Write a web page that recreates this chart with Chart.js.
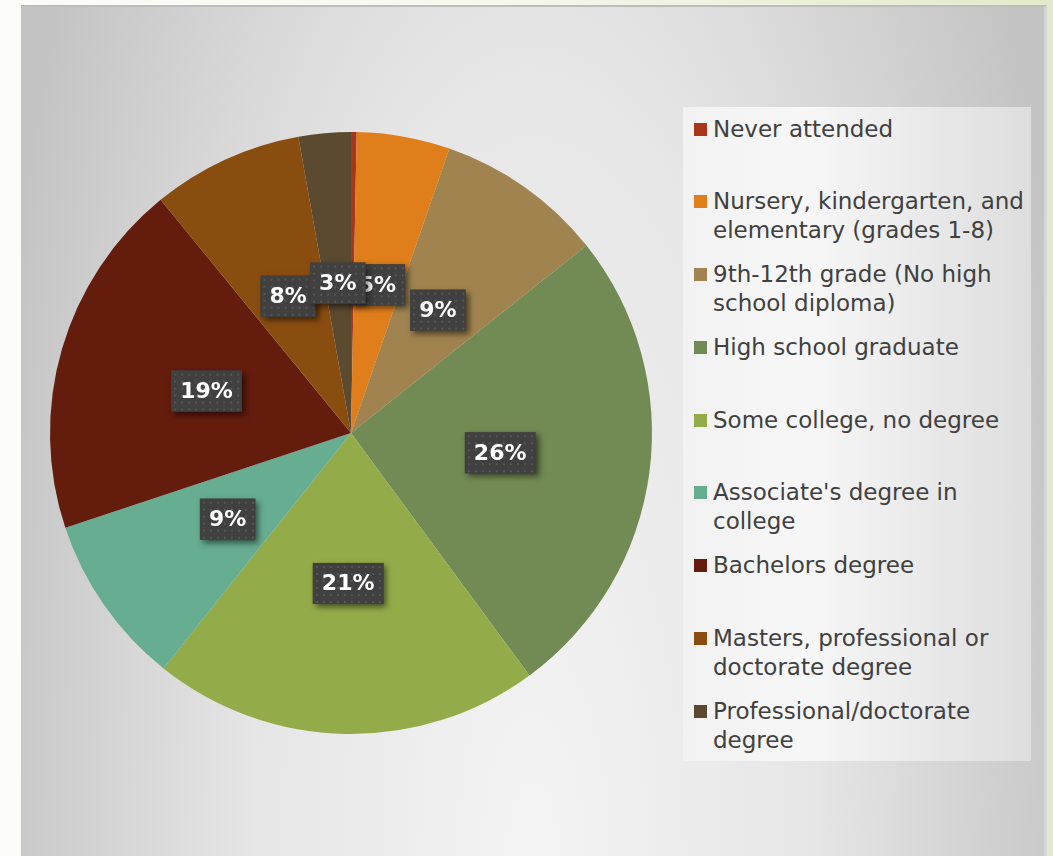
<!DOCTYPE html>
<html>
<head>
<meta charset="utf-8">
<script src="https://cdn.jsdelivr.net/npm/chart.js@4.4.0/dist/chart.umd.min.js"></script>
<style>
html,body{margin:0;padding:0;}
body{width:1053px;height:856px;overflow:hidden;position:relative;
  background:linear-gradient(to right,#fcfcf9 0%,#f6f8ee 45%,#e3eacb 100%);
  font-family:"DejaVu Sans",sans-serif;}
#panel{position:absolute;left:21px;top:5px;width:1026px;height:851px;box-sizing:border-box;
  border-top:2px solid #bdbdbd;border-left:1px solid #c2c2c2;border-right:3px solid #d6d6d6;
  background:radial-gradient(ellipse 560px 1600px at 50% 100%,#f4f4f4 0%,#e6e6e6 50%,#c4c4c4 100%);}
#legend{position:absolute;left:683px;top:107px;width:348px;height:654px;
  background:linear-gradient(to right,#f2f2f2 0%,#f7f7f7 35%,#dedede 100%);}
.item{position:absolute;left:30px;font-size:23px;line-height:29px;color:#404040;white-space:nowrap;}
.mark{position:absolute;left:11px;width:13px;height:13px;}
canvas{position:absolute;left:0;top:0;}
</style>
</head>
<body>
<div id="panel"></div>
<div id="legend"></div>
<canvas id="c" width="1053" height="856"></canvas>
<script>
const categories = [
  "Never attended",
  "Nursery, kindergarten, and elementary (grades 1-8)",
  "9th-12th grade (No high school diploma)",
  "High school graduate",
  "Some college, no degree",
  "Associate's degree in college",
  "Bachelors degree",
  "Masters, professional or doctorate degree",
  "Professional/doctorate degree"
];
const legendLines = [
  ["Never attended"],
  ["Nursery, kindergarten, and", "elementary (grades 1-8)"],
  ["9th-12th grade (No high", "school diploma)"],
  ["High school graduate"],
  ["Some college, no degree"],
  ["Associate's degree in", "college"],
  ["Bachelors degree"],
  ["Masters, professional or", "doctorate degree"],
  ["Professional/doctorate", "degree"]
];
const values = [0.3, 5.0, 9.0, 25.6, 20.8, 9.2, 19.2, 8.1, 2.8];
const colors = ["#A9351A", "#E07E1B", "#A0834F", "#728A53", "#94AB4A", "#66AD91", "#641C0D", "#8A4D10", "#5B4A2F"];

// HTML legend
const legend = document.getElementById('legend');
const firstLineCenter = 22;   // relative to legend box top
const slot = 72.75;
legendLines.forEach((lines, i) => {
  const cy = firstLineCenter + slot * i;
  const t = document.createElement('div');
  t.className = 'item';
  t.style.top = (cy - 14.5) + 'px';
  t.innerHTML = lines.map(l => l.replace(/&/g,'&amp;')).join('<br>');
  legend.appendChild(t);
  const m = document.createElement('div');
  m.className = 'mark';
  m.style.top = (cy - 6.5) + 'px';
  m.style.background = colors[i];
  legend.appendChild(m);
});

// dotted pattern for label boxes
function makePattern(ctx) {
  const p = document.createElement('canvas');
  p.width = 7; p.height = 7;
  const pc = p.getContext('2d');
  pc.fillStyle = '#404040';
  pc.fillRect(0, 0, 7, 7);
  pc.fillStyle = '#565656';
  pc.fillRect(3, 3, 2, 2);
  return ctx.createPattern(p, 'repeat');
}

const labelPlugin = {
  id: 'boxLabels',
  afterDatasetsDraw(chart) {
    const ctx = chart.ctx;
    const meta = chart.getDatasetMeta(0);
    const data = chart.data.datasets[0].data;
    const total = data.reduce((a, b) => a + b, 0);
    const pattern = makePattern(ctx);
    ctx.save();
    ctx.font = 'bold 22px "DejaVu Sans"';
    ctx.textAlign = 'center';
    ctx.textBaseline = 'middle';
    meta.data.forEach((arc, i) => {
      const pct = data[i] / total * 100;
      if (pct < 1) return;
      const txt = Math.round(pct) + '%';
      const pos = arc.tooltipPosition();
      const w = ctx.measureText(txt).width + 18;
      const h = 41;
      const x = pos.x - w / 2, y = pos.y - h / 2;
      ctx.save();
      ctx.shadowColor = 'rgba(0,0,0,0.55)';
      ctx.shadowBlur = 6;
      ctx.shadowOffsetX = 3;
      ctx.shadowOffsetY = 3;
      ctx.fillStyle = '#404040';
      ctx.fillRect(x, y, w, h);
      ctx.restore();
      ctx.save();
      ctx.translate(x, y);
      ctx.fillStyle = pattern;
      ctx.fillRect(0, 0, w, h);
      ctx.restore();
      ctx.fillStyle = '#ffffff';
      ctx.fillText(txt, pos.x, pos.y + 1);
    });
    ctx.restore();
  }
};

new Chart(document.getElementById('c'), {
  type: 'pie',
  data: {
    labels: categories,
    datasets: [{
      data: values,
      backgroundColor: colors,
      borderWidth: 0,
      hoverOffset: 0,
      offset: 0
    }]
  },
  options: {
    responsive: false,
    animation: false,
    layout: { padding: { left: 50, top: 132, right: 401, bottom: 122 } },
    plugins: {
      legend: { display: false },
      tooltip: { enabled: false }
    }
  },
  plugins: [labelPlugin]
});
</script>
</body>
</html>
